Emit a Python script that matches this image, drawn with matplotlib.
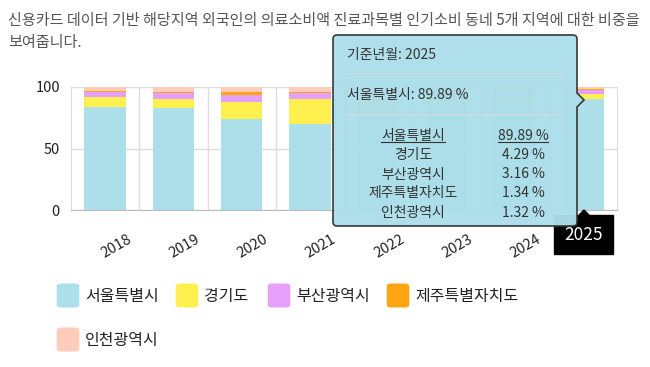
import matplotlib
matplotlib.use("Agg")
import matplotlib.pyplot as plt
import matplotlib.transforms as mtransforms
from matplotlib.patches import Rectangle, FancyBboxPatch, PathPatch, Polygon
from matplotlib.path import Path
import numpy as np

plt.rcParams['font.family'] = ['Noto Sans CJK KR', 'DejaVu Sans']
plt.rcParams['font.weight'] = 'medium'

years = ['2018', '2019', '2020', '2021', '2022', '2023', '2024', '2025']
regions = ['서울특별시', '경기도', '부산광역시', '제주특별자치도', '인천광역시']
seoul = [83.4, 82.6, 73.6, 70.3, 76.0, 85.0, 88.0, 89.89]
gyeonggi = [8.1, 7.6, 14.2, 19.9, 13.5, 7.0, 5.0, 4.29]
busan = [4.1, 4.9, 5.7, 4.6, 5.0, 4.0, 3.5, 3.16]
jeju = [0.8, 1.1, 2.1, 1.4, 1.5, 1.5, 1.5, 1.34]
incheon = [3.6, 3.8, 4.4, 3.8, 4.0, 2.5, 2.0, 1.32]
colors = ['#ADDFEB', '#FFF050', '#E6A0FA', '#FFA514', '#FFCBBA']

title_lines = ['신용카드 데이터 기반 해당지역 외국인의 의료소비액 진료과목별 인기소비 동네 5개 지역에 대한 비중을',
               '보여줍니다.']

W, H = 650, 367
fig = plt.figure(figsize=(W / 100, H / 100), dpi=100)


def px(x, y):
    # pixel position (top-left origin) -> figure fraction
    return x / W, 1 - y / H


ax = fig.add_axes([71 / W, 1 - 210 / H, (617 - 71) / W, (210 - 87) / H])

series = [seoul, gyeonggi, busan, jeju, incheon]
x = np.arange(len(years))
bottom = np.zeros(len(years))
for vals, c in zip(series, colors):
    ax.bar(x, vals, width=0.61, bottom=bottom, color=c, zorder=2)
    bottom += np.array(vals)

ax.set_xlim(-0.5, len(years) - 0.5)
ax.set_ylim(0, 100)
ax.set_yticks([0, 50, 100])
ax.set_yticklabels(['0', '50', '100'], fontsize=10.5, color='#222')
ax.set_xticks(np.arange(len(years) - 1) + 0.5, minor=True)
ax.set_xticks([])
ax.tick_params(axis='both', which='both', length=0, pad=8)
ax.grid(axis='y', color='#dddddd', lw=1, zorder=0)
ax.grid(axis='x', which='minor', color='#dddddd', lw=1, zorder=0)
for s in ['left', 'right']:
    ax.spines[s].set_color('#dddddd')
ax.spines['top'].set_visible(False)
ax.spines['bottom'].set_color('#bbbbbb')

lab_tr = mtransforms.offset_copy(ax.get_xaxis_transform(), fig=fig, x=11, y=-36, units='dots')
for i, yr in enumerate(years[:-1]):
    ax.text(i, 0, yr, transform=lab_tr, rotation=30, ha='center', va='center',
            rotation_mode='anchor', fontsize=10.5, color='#222')

# title
fig.text(*px(8, 20), title_lines[0], fontsize=10.9, color='#555', va='center', ha='left')
fig.text(*px(8, 43), title_lines[1], fontsize=10.9, color='#555', va='center', ha='left')

# hover label for 2025
bx0, bx1, by0, by1 = 554, 613, 215, 254
fig.patches.append(Rectangle(px(bx0, by1), (bx1 - bx0) / W, (by1 - by0) / H,
                             transform=fig.transFigure, color='black', zorder=5))
fig.patches.append(Polygon([px(579, 215), px(584, 210), px(589, 215)], closed=True,
                           transform=fig.transFigure, color='black', zorder=5))
fig.text(*px((bx0 + bx1) / 2, 235), years[-1], color='white', fontsize=12.5,
         ha='center', va='center', zorder=6)

# tooltip
l, r, t, b, rad = 333, 577, 35, 226, 4
verts = [(l + rad, t), (r - rad, t), (r, t), (r, t + rad), (r, 93), (584, 100), (r, 107),
         (r, b - rad), (r, b), (r - rad, b), (l + rad, b), (l, b), (l, b - rad),
         (l, t + rad), (l, t), (l + rad, t), (l + rad, t)]
codes = [Path.MOVETO, Path.LINETO, Path.CURVE3, Path.CURVE3, Path.LINETO, Path.LINETO,
         Path.LINETO, Path.LINETO, Path.CURVE3, Path.CURVE3, Path.LINETO, Path.CURVE3,
         Path.CURVE3, Path.LINETO, Path.CURVE3, Path.CURVE3, Path.CLOSEPOLY]
tip_path = Path([px(*v) for v in verts], codes)
fig.patches.append(PathPatch(tip_path, transform=fig.transFigure, facecolor='#ACDEEA',
                             edgecolor='#333333', lw=1.2, alpha=0.97, zorder=7))

idx = len(years) - 1
last = [s[idx] for s in series]
tc = '#333333'
fig.text(*px(347, 55), f'기준년월: {years[idx]}', fontsize=10, color=tc, va='center', zorder=8)
fig.lines.append(plt.Line2D(*zip(px(346, 73.5), px(564, 73.5)), transform=fig.transFigure,
                            color='#c9dde2', lw=1.2, zorder=8))
fig.text(*px(347, 95), f'{regions[0]}: {last[0]:.2f} %', fontsize=10, color=tc, va='center', zorder=8)
fig.lines.append(plt.Line2D(*zip(px(346, 114.5), px(564, 114.5)), transform=fig.transFigure,
                            color='#c9dde2', lw=1.2, zorder=8))

row_y = [136, 155, 174.5, 193.5, 213]
row_texts = []
for k, (name, v) in enumerate(zip(regions, last)):
    t1 = fig.text(*px(413, row_y[k]), name, fontsize=10, color=tc, ha='center', va='center', zorder=8)
    t2 = fig.text(*px(523, row_y[k]), f'{v:.2f} %', fontsize=10, color=tc, ha='center', va='center', zorder=8)
    row_texts.append((t1, t2))

fig.canvas.draw()
inv = fig.transFigure.inverted()
for tt in row_texts[0]:
    bb = tt.get_window_extent().transformed(inv)
    fig.lines.append(plt.Line2D([bb.x0, bb.x1], [bb.y0 + 0.002, bb.y0 + 0.002],
                                transform=fig.transFigure, color=tc, lw=0.8, zorder=8))

# legend
leg_pos = [(57, 296), (176, 296), (268, 296), (387, 296), (57, 340)]
for (lx, ly), name, c in zip(leg_pos, regions, colors):
    fig.patches.append(FancyBboxPatch(px(lx + 2, ly + 10), 18 / W, 21 / H,
                                      boxstyle='round,pad=0.003,rounding_size=0.006',
                                      transform=fig.transFigure, facecolor=c,
                                      edgecolor=c, lw=0.5))
    fig.text(*px(lx + 28, ly), name, fontsize=11.5, color='#222', va='center', ha='left')

fig.savefig('out.png', dpi=100)
